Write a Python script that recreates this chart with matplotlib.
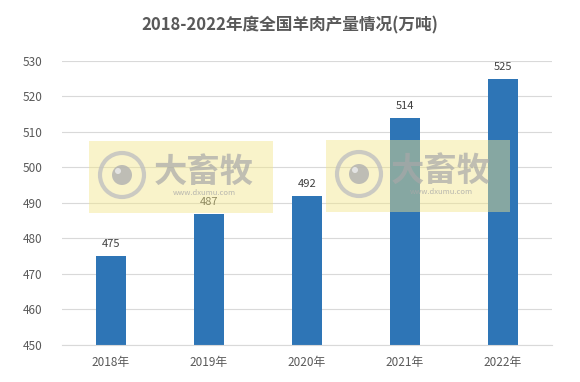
import matplotlib.pyplot as plt
from matplotlib.patches import Rectangle, Ellipse

plt.rcParams['font.family'] = ['Noto Sans CJK SC', 'DejaVu Sans']

years = ['2018年', '2019年', '2020年', '2021年', '2022年']
output = [475, 487, 492, 514, 525]
y_ticks = [450, 460, 470, 480, 490, 500, 510, 520, 530]

W, H = 580, 382
fig = plt.figure(figsize=(W / 100, H / 100), dpi=100)
ax = fig.add_axes([62 / W, 37 / H, 490 / W, 284 / H])

x = range(len(years))
bars = ax.bar(x, output, width=0.31, color='#2E75B6', zorder=2)
for xi, v in zip(x, output):
    ax.text(xi, v + 2, str(v), ha='center', va='bottom', fontsize=8, color='#404040')

ax.set_ylim(450, 530)
ax.set_yticks(y_ticks)
ax.set_xlim(-0.5, len(years) - 0.5)
ax.set_xticks(list(x))
ax.set_xticklabels(years)
ax.tick_params(axis='both', length=0, labelsize=8.5, colors='#595959')
ax.tick_params(axis='x', pad=8)
ax.tick_params(axis='y', pad=14)
ax.grid(axis='y', color='#d9d9d9', linewidth=0.8, zorder=0)
for s in ['top', 'right', 'left']:
    ax.spines[s].set_visible(False)
ax.spines['bottom'].set_color('#d9d9d9')

fig.text(0.5, 1 - 25 / H, '2018-2022年度全国羊肉产量情况(万吨)', ha='center', va='center',
         fontsize=12, fontweight='bold', color='#595959')

# watermarks
def ell(cx, cy, d, **kw):
    return Ellipse((cx / W, 1 - cy / H), d / W, d / H, transform=fig.transFigure, **kw)

for (x0, y0) in [(89, 141), (326, 140)]:
    fig.patches.append(Rectangle((x0 / W, 1 - (y0 + 72) / H), 184 / W, 72 / H,
                                 transform=fig.transFigure, facecolor='#f2e68a',
                                 alpha=0.45, edgecolor='none', zorder=5))
    fig.patches.append(ell(x0 + 33, y0 + 34, 44, facecolor='none', edgecolor='#c0c0c0',
                           linewidth=3, alpha=0.8, zorder=6))
    fig.patches.append(ell(x0 + 33, y0 + 34, 20, facecolor='#b0b0b0',
                           edgecolor='none', alpha=0.8, zorder=6))
    fig.patches.append(ell(x0 + 29, y0 + 30, 6, facecolor='#e8e8e8',
                           edgecolor='none', alpha=0.9, zorder=7))
    fig.text((x0 + 115) / W, 1 - (y0 + 31) / H, '大畜牧', ha='center', va='center',
             fontsize=24, fontweight='bold', color='#a8a8a8', alpha=0.7, zorder=6)
    fig.text((x0 + 115) / W, 1 - (y0 + 52) / H, 'www.dxumu.com', ha='center', va='center',
             fontsize=5.5, color='#a8a8a8', alpha=0.8, zorder=6)

fig.savefig('out.png', dpi=100)
